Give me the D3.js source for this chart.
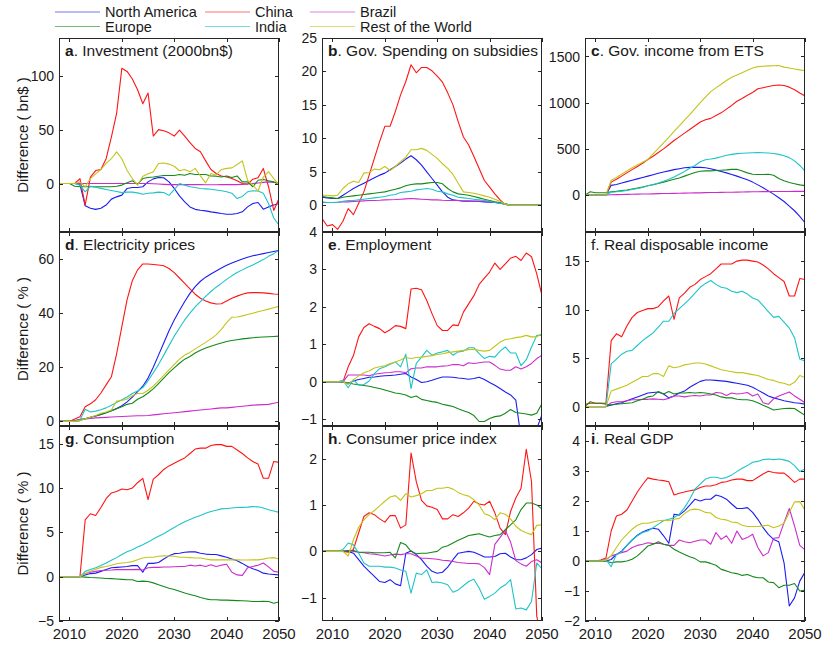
<!DOCTYPE html>
<html><head><meta charset="utf-8">
<script src="https://cdn.jsdelivr.net/npm/d3@7"></script>
<style>
body{margin:0;background:#fff}
svg{display:block}
text{font-family:"Liberation Sans",Arial,Helvetica,sans-serif;fill:#1a1a1a}
</style>
</head><body>
<svg id="chart" width="830" height="648"></svg>
<script>
// ---------------- data ----------------
const years = d3.range(2008, 2051);
const regions = ["North America","China","Brazil","Europe","India","Rest of the World"];
const regionColors = ["#1c1cf2","#ff1414","#cc2ccc","#14891a","#1ec4c8","#c4c41a"];
const xTickYears = [2010,2020,2030,2040,2050];

// series order: North America, China, Brazil, Europe, India, Rest of the World
const investment = [
 [0,0,0,0,-1,-20.7,-23,-24,-23,-20,-14.5,-12.4,-10.8,-4.6,-3.7,-3.7,-3,1.5,4.3,5.6,5.3,1.5,-4.6,-11.5,-17,-21.7,-24,-24.8,-25.4,-26.3,-27,-27.9,-28.5,-28.5,-27.9,-26.3,-21.7,-18.6,-17.6,-23.8,-21.7,-20,-18.6],
 [0,0,0,0,4.6,-20,6,12,13,23,43,65,107,104,97,87,74,84,44,50,49,47,44,49.5,44,38,32.5,29.4,21,13,9.3,7,6,4.6,2.5,0,-0.6,4,5.3,14,-3,-25,-14],
 [0,0,0,0,0,0,0,0,0,0,0,0,0,0,0,0,0,0,-0.3,-0.5,-0.8,-1,-1,-1,-1,-1,-1,-1,-1.2,-1.2,-1.2,-1,-1,-1,-1,-0.8,-0.5,0,0.5,1,1.5,1,0.5],
 [0,0,0,-2.5,-3,-3,-3,-3,-3,-3,-3,-2.5,-1.5,0.6,2.5,-0.6,4.6,5.6,6,6.8,7.4,7.4,7.4,8.4,7.7,9.3,8.4,8.4,8.4,7,6.8,6,7,5.6,7,1.5,1.5,-3,3,3.7,2.5,1.5,-0.6],
 [0,0,0,0,-1.5,-7.7,-2.5,-3.5,-4.5,-5.5,-6.5,-7.5,-8.5,-8,-8,-8.7,-10,-9,-8.7,-8,-8.3,-11,-5.6,0,-1.5,-3,-3.7,-4.6,-5,-5.3,-6,-6.8,-7.7,-9,-14,-12,-7.7,-6.8,-7,-9,-18.6,-32,-38.7],
 [0,0,0,0,1.5,-3,4.6,9,13,18.6,23,29.4,23,12,4.6,-1.5,6.8,9,10.8,18.6,19,18,16,11.8,13,10.8,14,7,0.6,9.3,7.7,13,14,14.5,17.6,21,3,-1.5,-7,6,11,4.6,-1.5]
];
const subsidies = [
 [1.2,1.1,1.0,1.0,1.5,2.0,2.5,2.9,3.3,3.7,4.1,4.5,4.8,5.3,5.8,6.3,6.9,7.4,6.8,6.0,5.0,4.0,3.0,2.0,1.2,0.8,0.7,0.6,0.6,0.6,0.55,0.5,0.45,0.4,0.3,0.2,0,0,0,0,0,0,0],
 [-2,-3.1,-2.9,-3.6,-2.4,-0.5,-1.4,0.3,2,4.5,7,9.5,11.8,11.8,14,16.5,18.5,21,19.8,20.6,20.6,20.1,19.3,18.4,16.8,15,12.5,10.2,9,7.3,5.5,3.7,2.7,1.7,0.8,0.1,0,0,0,0,0,0,0],
 [0.4,0.4,0.4,0.45,0.5,0.5,0.55,0.6,0.65,0.7,0.72,0.75,0.8,0.82,0.85,0.9,0.95,1.0,0.95,0.9,0.85,0.8,0.8,0.75,0.72,0.7,0.7,0.68,0.66,0.64,0.62,0.6,0.58,0.45,0.3,0.15,0,0,0,0,0,0,0],
 [1.3,1.2,1.1,1.0,1.2,1.3,1.4,1.5,1.6,1.7,1.8,1.9,2.0,2.2,2.4,2.6,2.9,3.1,3.2,3.2,3.3,3.4,3.4,3.2,2.5,2.0,1.7,1.6,1.5,1.3,1.1,0.9,0.7,0.5,0.4,0.2,0,0,0,0,0,0,0],
 [0.5,0.4,0.4,0.4,0.6,0.7,0.7,0.8,0.9,1.0,1.1,1.2,1.3,1.5,1.6,1.9,2.0,2.1,2.3,2.4,2.5,2.4,2.1,2.0,1.7,1.5,1.2,1.1,1.0,0.9,0.8,0.7,0.6,0.4,0.3,0.1,0,0,0,0,0,0,0],
 [1.5,1.5,1.4,1.5,2.5,3.2,3.6,3.4,4.8,4.9,5.4,5.3,5.8,5.2,5.8,6.5,7.2,8.3,8.3,8.5,8.2,7.6,7.0,6.2,5.5,4.6,3.3,2.0,1.9,1.8,1.6,1.4,1.2,0.9,0.6,0.2,0,0,0,0,0,0,0]
];
const etsIncome = [
 [0,0,0,0,0,105,115,130,145,160,175,190,205,220,235,250,262,275,285,295,300,300,300,295,285,270,255,240,222,205,185,165,140,110,80,45,10,-30,-70,-120,-170,-230,-300],
 [0,0,0,0,0,140,170,205,240,275,310,345,385,420,460,500,545,590,630,670,710,750,790,815,830,860,890,930,970,1015,1045,1080,1110,1150,1162,1175,1185,1192,1185,1168,1140,1105,1073],
 [0,0,0,0,0,4,5,6,7,8,10,11,12,13,15,16,17,18,20,21,22,23,24,26,27,28,29,30,31,32,33,34,35,36,37,37,38,38,39,39,40,40,40],
 [0,36,25,25,25,35,40,48,55,65,75,88,100,112,125,140,155,170,185,205,225,245,258,262,262,265,268,272,278,280,260,240,225,222,222,225,215,180,155,135,122,110,102],
 [0,0,0,0,0,30,35,42,50,60,70,82,100,115,130,150,170,195,225,255,290,320,360,382,390,400,415,430,440,448,452,455,458,460,458,455,450,440,425,405,370,320,260],
 [0,0,0,0,0,160,190,225,260,295,325,355,385,445,505,565,625,690,750,810,870,935,1000,1060,1120,1160,1200,1240,1275,1300,1325,1350,1375,1390,1395,1398,1400,1402,1385,1375,1365,1355,1345]
];
const electricity = [
 [0,0,0,0.3,0.7,1.0,1.5,2.0,2.6,3.2,3.9,4.8,5.8,7.2,9.0,11,13,16,20,24.5,29,33.5,37.5,41,44.3,47.3,49.8,51.8,53.3,54.5,55.6,56.7,57.7,58.5,59.3,60,60.7,61.2,61.6,62,62.4,62.8,63.2],
 [0,0,0,0.9,1.7,5.4,6.5,8,10.5,13.5,16.5,25,35,45,52,56,58.2,58.2,58,57.8,57.5,56.5,55,53,51,49,47,45.5,44.5,43.8,43.4,43.5,44.5,45.5,46.3,47,47.5,47.6,47.6,47.5,47.3,47.1,47],
 [0,0,0,0,0.8,0.9,1.1,1.3,1.4,1.5,1.6,1.7,1.8,1.9,2.0,2.1,2.1,2.2,2.4,2.6,2.8,3.0,3.2,3.4,3.6,3.8,4.0,4.2,4.4,4.6,4.8,5.0,5.0,5.2,5.4,5.6,5.8,6.0,6.1,6.2,6.3,6.7,7.1],
 [0,0,0,0,0.3,1.0,1.5,2.0,2.6,3.2,3.9,4.7,5.4,6.3,6.7,8.2,9.1,10.5,12,14,16,18,19.8,21.5,23,24,25.3,26.3,27.1,27.8,28.4,29,29.5,29.9,30.2,30.5,30.7,30.9,31.1,31.2,31.3,31.4,31.5],
 [0,0,0,0,0.5,4.5,3.5,3.8,4.3,5,6,7,8,9,10.3,11.2,12.5,15,18,21,24.5,28,31.5,34.5,37.5,40,42.3,44.3,46.2,48,49.6,51,52.5,53.8,55,56,57,57.8,58.8,59.8,61,62,63.3],
 [0,0,0,0,0.3,1.0,1.5,2.2,3.0,3.5,4.2,7.5,7.7,8.3,9.5,10.3,10.3,11.5,13,15,17,19,21,23,24.5,25.5,26.8,28,29.2,30.5,32,34,36.5,38.5,38.6,39,39.5,40,40.5,41,41.5,42,42.5]
];
const employment = [
 [0,0,0,0,-0.01,-0.04,0.02,0.06,0.09,0.12,0.13,0.15,0.16,0.17,0.18,0.2,0.22,0.13,0.06,-0.02,0,0.04,0.09,0.13,0.13,0.12,0.1,0.09,0.07,0.09,0.12,0.06,-0.02,-0.09,-0.18,-0.27,-0.35,-0.49,-1.5,-1.6,-1.6,-1.25,-0.88],
 [0,0,0,0,0,0.4,0.7,1.2,1.45,1.55,1.48,1.42,1.31,1.39,1.5,1.48,1.42,2.48,2.5,2.46,2.17,1.82,1.5,1.37,1.37,1.52,1.5,1.86,2.08,2.3,2.6,2.77,2.93,3.17,3.0,3.15,3.3,3.35,3.24,3.44,3.34,2.88,2.3],
 [0,0,0,0,0,0.18,0.18,0.18,0.18,0.16,0.2,0.22,0.24,0.25,0.27,0.27,0.24,0.35,0.37,0.37,0.4,0.4,0.4,0.42,0.43,0.46,0.46,0.43,0.51,0.49,0.51,0.53,0.53,0.44,0.34,0.31,0.31,0.4,0.34,0.4,0.49,0.62,0.71],
 [0,0,0,0,0,-0.03,-0.06,-0.08,-0.1,-0.12,-0.15,-0.18,-0.22,-0.26,-0.3,-0.32,-0.35,-0.42,-0.38,-0.47,-0.5,-0.53,-0.55,-0.6,-0.63,-0.66,-0.72,-0.77,-0.82,-0.9,-1.06,-1.06,-0.98,-0.93,-0.91,-0.84,-0.74,-0.82,-0.84,-0.86,-0.89,-0.84,-0.58],
 [0,0,0,0,0.04,-0.16,0.06,-0.09,-0.07,0.02,0.22,0.35,0.4,0.47,0.53,0.4,0.74,-0.18,0.49,0.66,0.84,0.71,0.77,0.8,0.84,0.71,0.8,0.82,0.91,0.91,0.75,0.62,0.68,0.66,0.82,0.93,0.77,0.77,0.43,0.59,0.93,1.24,1.24],
 [0,0,0,0,0,-0.07,0.05,0.16,0.24,0.29,0.37,0.4,0.43,0.49,0.53,0.58,0.65,0.62,0.65,0.66,0.68,0.7,0.73,0.75,0.78,0.8,0.82,0.84,0.86,0.87,0.84,0.82,0.84,0.95,1.06,1.13,1.15,1.18,1.2,1.24,1.2,1.2,1.29]
];
const disposableIncome = [
 [0,0,0,0,0,0.17,0.3,0.4,0.6,0.8,1.0,1.2,1.4,1.45,1.5,1.3,0.9,1.1,1.4,1.6,2.0,2.3,2.6,2.75,2.75,2.7,2.65,2.6,2.5,2.4,2.3,2.2,2.0,1.7,1.4,1.1,0.9,0.75,0.6,0.5,0.4,0.35,0.25],
 [0.24,0.34,0.34,0.34,0.34,6.8,7.5,7.2,8.3,9.2,9.7,9.9,10.1,10.1,10.3,10.9,11.4,9.0,11.2,11.7,12.3,12.6,13.1,13.4,13.7,14.2,14.7,14.7,14.7,15.0,15.1,15.1,15.0,14.9,14.6,14.2,13.7,13.3,12.9,11.4,11.4,13.2,13.1],
 [0,0,0,0,0,0.4,0.5,0.5,0.6,0.7,0.7,0.75,0.75,0.8,0.75,0.7,0.85,1.1,1.1,1.0,1.1,1.15,1.1,1.2,1.2,1.45,1.4,1.15,1.4,1.3,1.35,1.45,1.1,1.3,0.4,0.24,0.8,1.1,1.3,1.5,1.1,0.75,0.4],
 [0,0.5,0.35,0.35,0.24,0.17,0.24,0.3,0.35,0.4,0.6,0.75,1.0,1.1,1.55,1.3,1.55,1.3,1.4,1.4,1.45,1.4,1.45,1.4,1.3,1.2,1.0,0.9,0.9,0.75,0.7,0.7,0.6,0.4,0.14,-0.1,-0.35,-0.27,-0.2,-0.17,-0.2,-0.55,-0.9],
 [0,0,0,0,0,4.4,4.9,5.4,5.7,5.8,6.3,6.8,7.2,7.6,8.2,8.8,8.8,9.6,10.1,10.6,11.1,11.7,12.3,12.7,13.0,12.6,12.3,12.2,11.9,11.75,11.9,11.6,11.2,11.0,10.4,9.8,9.2,9.3,8.7,8.1,7.1,4.9,4.7],
 [0,0,0,0,0,1.6,1.8,2.0,2.2,2.5,2.8,3.1,3.1,3.4,3.4,3.1,4.2,4.0,4.1,4.3,4.4,4.5,4.5,4.4,4.2,4.0,3.8,3.7,3.6,3.5,3.5,3.4,3.3,3.2,3.0,2.8,2.7,2.5,2.4,2.2,2.5,3.2,3.0]
];
const consumption = [
 [0,0,0,0,0,0.2,0.35,0.4,0.6,0.8,1.0,1.05,1.1,1.15,1.25,1.25,0.5,1.5,1.5,1.6,2.0,2.35,2.6,2.65,2.75,2.8,2.8,2.65,2.55,2.5,2.5,2.35,2.2,2.0,1.8,1.5,1.15,0.9,0.7,0.4,0.3,0.25,0.2],
 [0,0,0,0,0,6.4,7.1,6.9,7.8,8.8,9.45,9.6,9.9,9.8,10.0,10.6,11.1,8.7,11.0,11.5,12.1,12.5,12.8,13.1,13.4,13.9,14.4,14.5,14.5,14.8,14.9,14.9,14.7,14.7,14.3,13.9,13.4,13.0,12.7,11.1,11.1,13.0,12.9],
 [0,0,0,0,0,0.35,0.5,0.6,0.7,0.72,0.75,0.8,0.8,0.8,0.8,0.82,0.75,1.0,1.05,1.05,1.1,1.1,1.12,1.15,1.15,1.3,1.2,1.3,1.15,1.35,1.15,1.3,1.4,0.5,0.2,0.15,1.0,1.15,1.3,1.55,1.1,0.6,0.5],
 [0,0,0,0,0,-0.05,-0.1,-0.12,-0.15,-0.2,-0.22,-0.26,-0.3,-0.35,-0.35,-0.55,-0.5,-0.55,-0.7,-0.9,-1.1,-1.3,-1.45,-1.65,-1.85,-2.0,-2.15,-2.35,-2.5,-2.6,-2.6,-2.65,-2.65,-2.67,-2.7,-2.72,-2.75,-2.8,-2.8,-2.78,-2.8,-3.0,-2.85],
 [0,0,0,0,0,0.6,0.8,1.0,1.25,1.55,1.85,2.15,2.5,2.8,3.05,3.35,3.6,3.9,4.25,4.55,4.85,5.2,5.55,5.9,6.2,6.45,6.7,6.9,7.15,7.35,7.5,7.65,7.7,7.75,7.8,7.82,7.85,7.9,7.88,7.75,7.55,7.4,7.25],
 [0,0,0,0,0,0.35,0.6,0.85,1.05,1.15,1.3,1.45,1.55,1.6,1.7,1.9,2.1,2.2,2.2,2.3,2.35,2.33,2.3,2.2,2.2,2.15,2.1,2.1,2.0,1.9,1.9,1.9,1.9,1.9,1.9,1.88,1.88,1.9,1.9,1.98,2.1,2.15,2.0]
];
const cpi = [
 [0,0,0,0,0,0,-0.04,-0.18,-0.32,-0.43,-0.54,-0.65,-0.67,-0.61,-0.7,-0.74,-0.04,0.01,-0.07,-0.18,-0.32,-0.43,-0.47,-0.45,-0.34,-0.18,-0.04,-0.02,0,-0.02,-0.07,-0.12,-0.12,-0.11,-0.05,-0.04,-0.12,-0.18,-0.18,-0.14,-0.07,0.04,0.07],
 [0,0,0,0,0,-0.02,0.04,0.4,0.75,0.83,0.79,0.7,0.63,0.77,0.77,0.5,0.57,2.12,1.5,1.1,0.98,0.95,0.9,0.7,0.7,0.79,0.75,0.83,0.93,1.08,1.02,1.0,1.08,0.83,0.5,0.36,0.86,1.15,1.36,2.2,1.5,-1.4,-1.9],
 [0,0,0,0,0,0.02,0,-0.02,-0.03,-0.05,-0.06,-0.08,-0.1,-0.08,-0.06,-0.07,-0.05,-0.05,-0.1,-0.15,-0.15,-0.16,-0.17,-0.19,-0.2,-0.22,-0.24,-0.25,-0.26,-0.26,-0.27,-0.35,-0.5,0.15,0.3,0.45,0.2,-0.2,-0.27,-0.32,-0.22,-0.18,-0.25],
 [0,0,0,0,0,0.02,0.02,-0.02,-0.02,-0.02,-0.03,-0.03,-0.03,-0.02,-0.14,0.19,0.14,0,-0.05,-0.04,-0.04,-0.02,0,0.09,0.12,0.18,0.24,0.29,0.34,0.36,0.38,0.34,0.31,0.34,0.36,0.47,0.57,0.68,0.9,1.04,1.04,1.0,0.91],
 [0,0,0,0,0.04,0.18,0.14,-0.04,-0.25,-0.32,-0.32,-0.32,-0.34,-0.34,-0.36,-0.4,-0.43,-0.9,-0.47,-0.5,-0.4,-0.67,-0.66,-0.68,-0.72,-0.88,-0.83,-0.74,-0.65,-0.6,-0.79,-1.03,-0.97,-0.9,-0.79,-0.72,-0.61,-1.24,-1.22,-1.26,-1.08,-0.25,-0.38],
 [0,0,0,0,0,-0.1,0.25,0.52,0.68,0.79,0.88,0.98,1.08,1.17,1.2,1.1,1.24,1.17,1.2,1.24,1.31,1.31,1.36,1.36,1.38,1.34,1.27,1.22,1.19,1.11,1.0,0.81,0.77,0.68,0.83,0.8,0.7,0.54,0.45,0.4,0.36,0.56,0.57]
];
const gdp = [
 [0,0,0,0,0,0.05,0.22,0.33,0.52,0.7,0.86,0.97,1.04,1.09,1.06,0.84,0.59,1.56,1.53,1.67,1.86,2.06,2.0,2.06,2.06,2.2,2.15,2.06,1.9,1.75,1.75,1.78,1.62,1.39,1.11,0.89,0.72,0.64,-0.06,-1.5,-1.23,-0.67,-0.37],
 [0,0,0,0.03,0.1,1.0,1.5,1.56,1.7,2.0,2.3,2.55,2.77,2.73,2.7,2.68,2.64,2.2,2.26,2.3,2.34,2.37,2.45,2.5,2.5,2.54,2.62,2.64,2.7,2.73,2.73,2.68,2.68,2.79,2.9,2.99,2.95,2.93,2.93,2.79,2.62,2.73,2.73],
 [0,0,0,0,0.05,0.17,0.22,0.28,0.33,0.45,0.52,0.56,0.61,0.58,0.59,0.56,0.52,0.52,0.7,0.64,0.61,0.66,0.7,0.7,0.56,0.95,0.72,0.84,0.59,1.0,0.72,0.78,0.89,0.45,0.17,0.28,0.76,0.78,1.28,1.75,1.17,0.52,0.37],
 [0,0,0,0,0,-0.06,-0.03,-0.03,0,0.06,0.17,0.33,0.5,0.56,0.64,0.56,0.52,0.39,0.3,0.22,0.14,0.08,-0.03,-0.03,-0.08,-0.14,-0.28,-0.33,-0.39,-0.42,-0.48,-0.45,-0.52,-0.56,-0.56,-0.7,-0.72,-0.89,-0.81,-0.81,-0.75,-1.0,-0.97],
 [0,0,0,0,0.05,-0.19,0.22,0.3,0.52,0.7,0.84,0.95,1.0,1.11,1.23,1.34,1.39,1.45,1.56,1.78,2.06,2.4,2.56,2.73,2.79,2.79,2.75,2.78,2.87,2.98,3.09,3.18,3.29,3.32,3.38,3.4,3.38,3.4,3.37,3.32,3.18,2.98,3.07],
 [0,0,0,0,0.03,0.17,0.45,0.7,0.89,1.06,1.19,1.26,1.26,1.3,1.34,1.36,1.34,1.39,1.42,1.58,1.7,1.73,1.7,1.62,1.6,1.45,1.39,1.37,1.3,1.28,1.19,1.15,1.15,1.15,1.17,1.19,1.11,1.17,1.26,1.62,1.97,1.98,1.7]
];

const panelLetters = ["a","b","c","d","e","f","g","h","i"];
const panelTitles = [". Investment (2000bn$)",". Gov. Spending on subsidies",". Gov. income from ETS",
  ". Electricity prices",". Employment",". Real disposable income",
  ". Consumption",". Consumer price index",". Real GDP"];
const letterBold = [true,true,true,true,true,false,true,true,true];
const yDomains = [[-45,135],[-4,25],[-400,1700],[-1.7,70],[-1.18,4],[-2,18],[-5,17],[-1.5,2.7],[-2,4.5]];
const yTickValues = [[0,50,100],[0,5,10,15,20,25],[0,500,1000,1500],[0,20,40,60],[-1,0,1,2,3,4],
  [0,5,10,15],[-5,0,5,10,15],[-1,0,1,2],[-2,-1,0,1,2,3,4]];
const yAxisLabels = ["Difference ( bn$ )","Difference ( % )","Difference ( % )"];
const panelSeries = [investment, subsidies, etsIncome, electricity, employment, disposableIncome, consumption, cpi, gdp];

// ---------------- layout ----------------
const colLeft = [59, 322, 585];
const plotW = 220;
const rowTop = [38, 232, 426];
const rowBottom = [232, 426, 621];
const tickLen = 4;
const fmt = d3.format("d");

const svg = d3.select("#chart");
const defs = svg.append("defs");

panelSeries.forEach((series, p) => {
  const c = p % 3, r = Math.floor(p / 3);
  const x0 = colLeft[c], x1 = x0 + plotW, y0 = rowTop[r], y1 = rowBottom[r];
  const x = d3.scaleLinear().domain([2008, 2050]).range([x0, x1]);
  const y = d3.scaleLinear().domain(yDomains[p]).range([y1, y0]);
  const g = svg.append("g");

  defs.append("clipPath").attr("id", "clip" + p)
    .append("rect").attr("x", x0).attr("y", y0).attr("width", plotW).attr("height", y1 - y0);

  // lines
  const line = d3.line().x((d, i) => x(years[i])).y(d => y(d));
  const lg = g.append("g").attr("clip-path", "url(#clip" + p + ")");
  series.forEach((vals, s) => {
    lg.append("path").attr("d", line(vals)).attr("fill", "none")
      .attr("stroke", regionColors[s]).attr("stroke-width", 1.1)
      .attr("stroke-linejoin", "round");
  });

  // frame
  const ax = g.append("g").attr("stroke", "#262626").attr("stroke-width", 1).attr("fill", "none");
  ax.append("rect").attr("x", x0 + 0.5).attr("y", y0 + 0.5).attr("width", plotW - 1).attr("height", y1 - y0 - 1);

  // y ticks (both sides, inward)
  yTickValues[p].forEach(v => {
    const yy = Math.round(y(v)) + 0.5;
    ax.append("line").attr("x1", x0).attr("x2", x0 + tickLen).attr("y1", yy).attr("y2", yy);
    ax.append("line").attr("x1", x1 - tickLen).attr("x2", x1).attr("y1", yy).attr("y2", yy);
    g.append("text").attr("x", x0 - 5).attr("y", y(v)).attr("dy", "0.36em")
      .attr("text-anchor", "end").attr("font-size", 14).text(fmt(v));
  });
  // x ticks (top and bottom, inward)
  xTickYears.forEach(yr => {
    const xx = Math.round(x(yr)) + 0.5;
    ax.append("line").attr("x1", xx).attr("x2", xx).attr("y1", y1).attr("y2", y1 - tickLen);
    ax.append("line").attr("x1", xx).attr("x2", xx).attr("y1", y0).attr("y2", y0 + tickLen);
    if (r === 2) {
      g.append("text").attr("x", x(yr)).attr("y", y1 + 18).attr("text-anchor", "middle")
        .attr("font-size", 15).text(yr);
    }
  });

  // title
  const t = g.append("text").attr("x", x0 + 6).attr("y", y0 + 17.5).attr("font-size", 15.5);
  t.append("tspan").attr("font-weight", letterBold[p] ? "bold" : "normal").text(panelLetters[p]);
  t.append("tspan").text(panelTitles[p]);
});

// y axis labels
yAxisLabels.forEach((lab, r) => {
  const mid = (rowTop[r] + rowBottom[r]) / 2;
  svg.append("text").attr("transform", `translate(27.5,${mid}) rotate(-90)`)
    .attr("text-anchor", "middle").attr("font-size", 15).text(lab);
});

// legend
const legX = [55, 205, 310];
const legY = [12, 26.5];
regions.forEach((name, i) => {
  const c = i % 3, r = Math.floor(i / 3);
  const lx = legX[c], ly = legY[r];
  svg.append("line").attr("x1", lx).attr("x2", lx + 45).attr("y1", ly).attr("y2", ly)
    .attr("stroke", regionColors[i]).attr("stroke-width", 1.2).attr("stroke-opacity", 0.6);
  svg.append("text").attr("x", lx + 50).attr("y", ly).attr("dy", "0.36em")
    .attr("font-size", 14.5).text(name);
});
</script>
</body></html>
